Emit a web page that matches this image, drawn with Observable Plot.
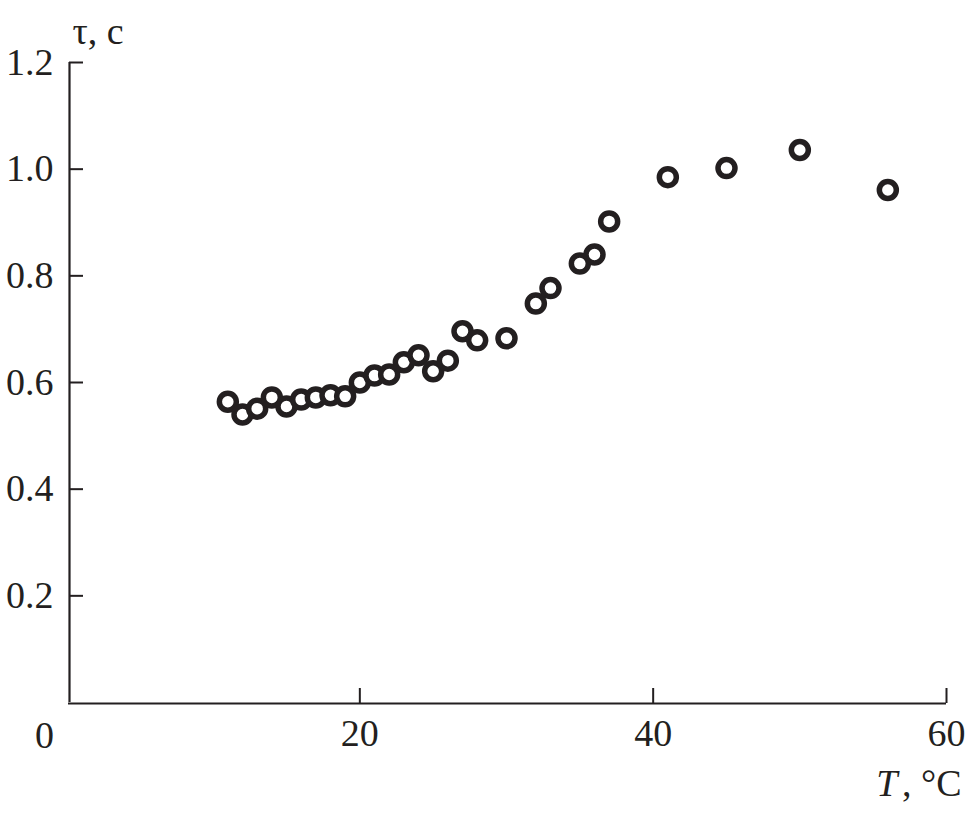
<!DOCTYPE html>
<html>
<head>
<meta charset="utf-8">
<script src="https://cdn.jsdelivr.net/npm/d3@7"></script>
<script src="https://cdn.jsdelivr.net/npm/@observablehq/plot@0.6"></script>
<style>
  html, body { margin: 0; padding: 0; background: #fff; }
</style>
</head>
<body>
<div id="chart"></div>
<script>
// Temperature T, °C
const temperature = [11, 12, 13, 14, 15, 16, 17, 18, 19, 20, 21, 22, 23, 24, 25, 26, 27, 28, 30, 32, 33, 35, 36, 37, 41, 45, 50, 56];
// Relaxation time τ, c
const tau = [0.564, 0.540, 0.551, 0.572, 0.555, 0.568, 0.572, 0.576, 0.574, 0.600, 0.613, 0.615, 0.638, 0.651, 0.621, 0.641, 0.696, 0.679, 0.683, 0.748, 0.777, 0.823, 0.840, 0.902, 0.985, 1.002, 1.036, 0.961];

const xTicks = [20, 40, 60];
const xTickLabels = ["20", "40", "60"];
const xOriginLabel = ["0"];
const yTicks = [0.2, 0.4, 0.6, 0.8, 1.0, 1.2];
const yTickLabels = ["0.2", "0.4", "0.6", "0.8", "1.0", "1.2"];
const yTitle = "τ, c";
const xTitleItalic = "T";
const xTitleRest = ", °C";

const data = temperature.map((t, i) => ({T: t, tau: tau[i]}));
const ink = "#231f20";

const chart = Plot.plot({
  width: 970,
  height: 815,
  marginLeft: 66,
  marginRight: 24,
  marginTop: 62,
  marginBottom: 113,
  style: {fontFamily: "'Liberation Serif', 'DejaVu Serif', serif", fontSize: "38px", color: ink, background: "#fff", overflow: "visible"},
  x: {domain: [0, 60]},
  y: {domain: [0, 1.2]},
  marks: [
    // axis lines
    Plot.ruleX([0], {dx: 3, stroke: ink, strokeWidth: 2.2}),
    Plot.ruleY([0], {dy: 1, stroke: ink, strokeWidth: 2.2, insetLeft: 2}),
    // inward ticks
    Plot.ruleY(yTicks, {x1: 0, x2: 60, insetLeft: 3, insetRight: 863, stroke: ink, strokeWidth: 2}),
    Plot.ruleX(xTicks, {y1: 1.2, y2: 0, insetTop: 626, insetBottom: -1, stroke: ink, strokeWidth: 2}),
    // tick labels
    Plot.axisY(yTicks, {tickSize: 0, tickPadding: 13, tickFormat: (d) => yTickLabels[yTicks.indexOf(d)], label: null, fontSize: 38}),
    Plot.axisX(xTicks, {tickSize: 0, tickPadding: 17, tickFormat: (d) => xTickLabels[xTicks.indexOf(d)], label: null, fontSize: 38}),
    Plot.text(xOriginLabel, {x: 0, y: 0, text: d => d, dx: -22, dy: 45, fontSize: 38, lineAnchor: "bottom", fill: ink}),
    // axis titles
    Plot.text([yTitle], {frameAnchor: "top-left", text: d => d, dx: 6, dy: -19, textAnchor: "start", lineAnchor: "bottom", fontSize: 38, fill: ink}),
    Plot.text([xTitleRest], {frameAnchor: "bottom-right", text: d => d, dx: 15, dy: 93, textAnchor: "end", lineAnchor: "bottom", fontSize: 38, fill: ink}),
    Plot.text([xTitleItalic], {frameAnchor: "bottom-right", text: d => d, dx: -49, dy: 93, textAnchor: "end", lineAnchor: "bottom", fontSize: 38, fontStyle: "italic", fill: ink}),
    // data
    Plot.dot(data, {x: "T", y: "tau", r: 8.5, stroke: ink, strokeWidth: 5.5, fill: "white", symbol: "circle"})
  ]
});

document.getElementById("chart").appendChild(chart);
</script>
</body>
</html>
